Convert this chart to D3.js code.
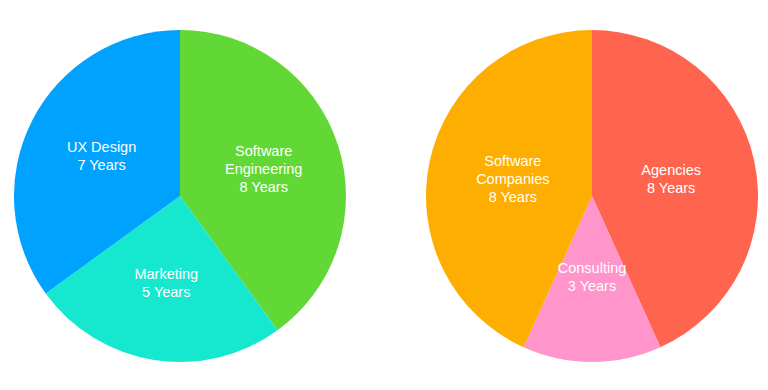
<!DOCTYPE html>
<html lang="en">
<head>
    <meta charset="UTF-8">
    <title>Experience Pies</title>
    <style>
        body { margin: 0; background: #fff; }
        svg { display: block; }
        .label { font-family: "Liberation Sans", Arial, sans-serif; font-size: 14.5px; fill: #fff; }
    </style>
</head>
<body>
    <svg id="chart" width="768" height="390"></svg>

    <script src="https://d3js.org/d3.v7.min.js"></script>
    <script>
        // left pie: fields
        const fieldNames = [["Software", "Engineering"], ["Marketing"], ["UX Design"]];
        const fieldYears = [8, 5, 7];
        const fieldSizes = [8, 5, 7];
        const fieldColors = ["#61d836", "#16e7cf", "#00a2ff"];

        // right pie: company types (consulting slice is drawn smaller than its label)
        const companyNames = [["Agencies"], ["Consulting"], ["Software", "Companies"]];
        const companyYears = [8, 3, 8];
        const companySizes = [8, 2.5, 8];
        const companyColors = ["#ff644e", "#ff95ca", "#feae00"];

        const width = 768;
        const height = 390;
        const radius = 166;
        const lineHeight = 18;

        const svg = d3.select("#chart")
            .attr("width", width)
            .attr("height", height);

        function drawPie(cx, cy, names, years, sizes, colors, labelRadius) {
            const data = sizes.map((s, i) => ({ size: s, years: years[i], name: names[i], color: colors[i] }));

            const pie = d3.pie().value(d => d.size).sort(null);
            const arc = d3.arc().innerRadius(0).outerRadius(radius);
            const labelArc = d3.arc().innerRadius(labelRadius).outerRadius(labelRadius);

            const g = svg.append("g").attr("transform", `translate(${cx}, ${cy})`);
            const arcs = pie(data);

            g.selectAll("path")
                .data(arcs)
                .enter()
                .append("path")
                .attr("d", arc)
                .attr("fill", d => d.data.color);

            const labels = g.selectAll("text")
                .data(arcs)
                .enter()
                .append("text")
                .attr("class", "label")
                .attr("text-anchor", "middle")
                .attr("transform", d => `translate(${labelArc.centroid(d)})`);

            labels.each(function(d) {
                const lines = d.data.name.concat([`${d.data.years} Years`]);
                const first = -(lines.length - 1) * lineHeight / 2 + 5;
                const t = d3.select(this);
                lines.forEach((line, i) => {
                    t.append("tspan")
                        .attr("x", 0)
                        .attr("y", first + i * lineHeight)
                        .text(line);
                });
            });
        }

        drawPie(180, 196, fieldNames, fieldYears, fieldSizes, fieldColors, 88);
        drawPie(592, 196, companyNames, companyYears, companySizes, companyColors, 81);
    </script>
</body>
</html>
